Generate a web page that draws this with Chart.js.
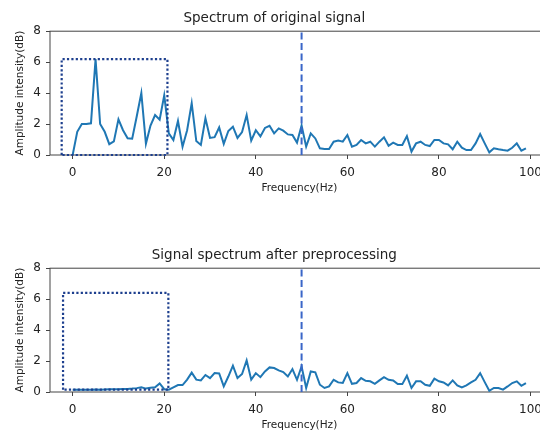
<!DOCTYPE html>
<html>
<head>
<meta charset="utf-8">
<script src="https://cdn.jsdelivr.net/npm/chart.js@4.4.1/dist/chart.umd.min.js"></script>
<style>
  html, body { margin: 0; padding: 0; background: #fff; overflow: hidden; width: 540px; height: 432px; }
  canvas { position: absolute; left: 0; }
  #top { top: 0; }
  #bottom { top: 237px; }
</style>
</head>
<body>
<canvas id="top" width="560" height="200"></canvas>
<canvas id="bottom" width="560" height="200"></canvas>
<script>
// spectrum samples, one per Hz starting at 0 Hz
const freqStart = 0;
const freqStep = 1;
const rawSpectrum = [
  0, 1.5, 2.0, 2.0, 2.05, 6.2, 2.0, 1.5, 0.7, 0.88,
  2.3, 1.6, 1.08, 1.05, 2.5, 4.0, 0.72, 1.9, 2.58, 2.28,
  3.85, 1.4, 0.97, 2.2, 0.53, 1.6, 3.35, 0.9, 0.65, 2.37,
  1.1, 1.15, 1.78, 0.72, 1.55, 1.83, 1.1, 1.48, 2.58, 0.93,
  1.6, 1.2, 1.75, 1.89, 1.4, 1.72, 1.57, 1.33, 1.29, 0.8,
  1.9, 0.54, 1.4, 1.07, 0.43, 0.39, 0.39, 0.86, 0.93, 0.86,
  1.29, 0.54, 0.65, 0.97, 0.75, 0.86, 0.54, 0.86, 1.14, 0.6,
  0.8, 0.65, 0.65, 1.22, 0.22, 0.75, 0.86, 0.65, 0.58, 0.97,
  0.97, 0.75, 0.69, 0.37, 0.86, 0.47, 0.32, 0.32, 0.75, 1.35,
  0.75, 0.17, 0.43, 0.37, 0.32, 0.28, 0.47, 0.75, 0.28, 0.43
];
const cleanSpectrum = [
  0.15, 0.15, 0.15, 0.15, 0.15, 0.16, 0.15, 0.16, 0.17, 0.17,
  0.18, 0.19, 0.2, 0.22, 0.25, 0.3, 0.22, 0.28, 0.3, 0.55,
  0.18, 0.15, 0.3, 0.45, 0.45, 0.8, 1.25, 0.8, 0.75, 1.1,
  0.9, 1.22, 1.2, 0.36, 1.0, 1.7, 0.9, 1.16, 2.04, 0.8,
  1.22, 0.96, 1.33, 1.59, 1.55, 1.4, 1.29, 1.0, 1.48, 0.79,
  1.65, 0.26, 1.33, 1.27, 0.47, 0.26, 0.36, 0.79, 0.62, 0.58,
  1.22, 0.53, 0.58, 0.9, 0.72, 0.69, 0.53, 0.75, 0.96, 0.79,
  0.75, 0.51, 0.51, 1.05, 0.26, 0.69, 0.69, 0.47, 0.4, 0.86,
  0.69, 0.62, 0.43, 0.75, 0.43, 0.3, 0.43, 0.62, 0.79, 1.22,
  0.64, 0.08, 0.26, 0.26, 0.15, 0.36, 0.58, 0.69, 0.4, 0.58
];
const xTicks = [0, 20, 40, 60, 80, 100];
const yTicks = [0, 2, 4, 6, 8];
const xRange = [-4.95, 103.95];
const cutoffHz = 50;
// dotted boxes around the 0-20 Hz band: [x0, x1], [y0, y1]
const rawBoxX = [-2.4, 20.7], rawBoxY = [0, 6.2];
const cleanBoxX = [-2.1, 20.9], cleanBoxY = [0.15, 6.4];

const textColor = '#222';
const spineColor = '#444';
const font = 'DejaVu Sans';

// full box round the plot area (matplotlib style spines)
const frame = {
  id: 'frame',
  beforeDatasetsDraw(chart) {
    const { ctx, chartArea: a } = chart;
    ctx.save();
    ctx.strokeStyle = spineColor;
    ctx.lineWidth = 1;
    ctx.strokeRect(a.left, a.top, a.right - a.left, a.bottom - a.top);
    ctx.restore();
  }
};

function boxPoints(bx, by) {
  return [
    { x: bx[0], y: by[0] }, { x: bx[0], y: by[1] },
    { x: bx[1], y: by[1] }, { x: bx[1], y: by[0] }, { x: bx[0], y: by[0] }
  ];
}

function spectrumChart(id, title, values, bx, by) {
  return new Chart(document.getElementById(id), {
    type: 'line',
    data: {
      datasets: [
        {
          data: values.map((v, i) => ({ x: freqStart + i * freqStep, y: v })),
          borderColor: '#1f77b4', borderWidth: 2, pointRadius: 0, tension: 0, order: 3
        },
        {
          data: boxPoints(bx, by),
          borderColor: '#1d3f8e', borderWidth: 2.2, borderDash: [2.2, 2.2],
          pointRadius: 0, clip: 6, order: 2
        },
        {
          data: [{ x: cutoffHz, y: yTicks[0] }, { x: cutoffHz, y: yTicks[yTicks.length - 1] }],
          borderColor: '#3a66c8', borderWidth: 2, borderDash: [7, 3.5],
          pointRadius: 0, order: 1
        }
      ]
    },
    options: {
      responsive: false,
      animation: false,
      devicePixelRatio: 1,
      layout: { padding: { left: 0, right: 11.4, top: 0, bottom: 0 } },
      plugins: {
        legend: { display: false },
        tooltip: { enabled: false },
        title: {
          display: true, text: title, color: textColor,
          font: { family: font, size: 13.5, weight: 'normal' },
          padding: { top: 10, bottom: 5 }
        }
      },
      scales: {
        x: {
          type: 'linear', min: xRange[0], max: xRange[1],
          afterBuildTicks: s => { s.ticks = xTicks.map(v => ({ value: v })); },
          afterFit: s => { s.height = 45; },
          border: { display: false },
          grid: { drawOnChartArea: false, tickLength: 4, tickColor: spineColor },
          ticks: { padding: 7, color: textColor, font: { family: font, size: 12 } },
          title: {
            display: true, text: 'Frequency(Hz)', color: textColor,
            font: { family: font, size: 10.5 }, padding: { top: 0, bottom: 5.7 }
          }
        },
        y: {
          min: yTicks[0], max: yTicks[yTicks.length - 1],
          afterBuildTicks: s => { s.ticks = yTicks.map(v => ({ value: v })); },
          afterFit: s => { s.width = 50; },
          border: { display: false },
          grid: { drawOnChartArea: false, tickLength: 4, tickColor: spineColor },
          ticks: { padding: 5, color: textColor, font: { family: font, size: 12 } },
          title: {
            display: true, text: 'Amplitude intensity(dB)', color: textColor,
            font: { family: font, size: 10.5 }, padding: { top: 13.7, bottom: 0 }
          }
        }
      }
    },
    plugins: [frame]
  });
}

spectrumChart('top', 'Spectrum of original signal', rawSpectrum, rawBoxX, rawBoxY);
spectrumChart('bottom', 'Signal spectrum after preprocessing', cleanSpectrum, cleanBoxX, cleanBoxY);
</script>
</body>
</html>
